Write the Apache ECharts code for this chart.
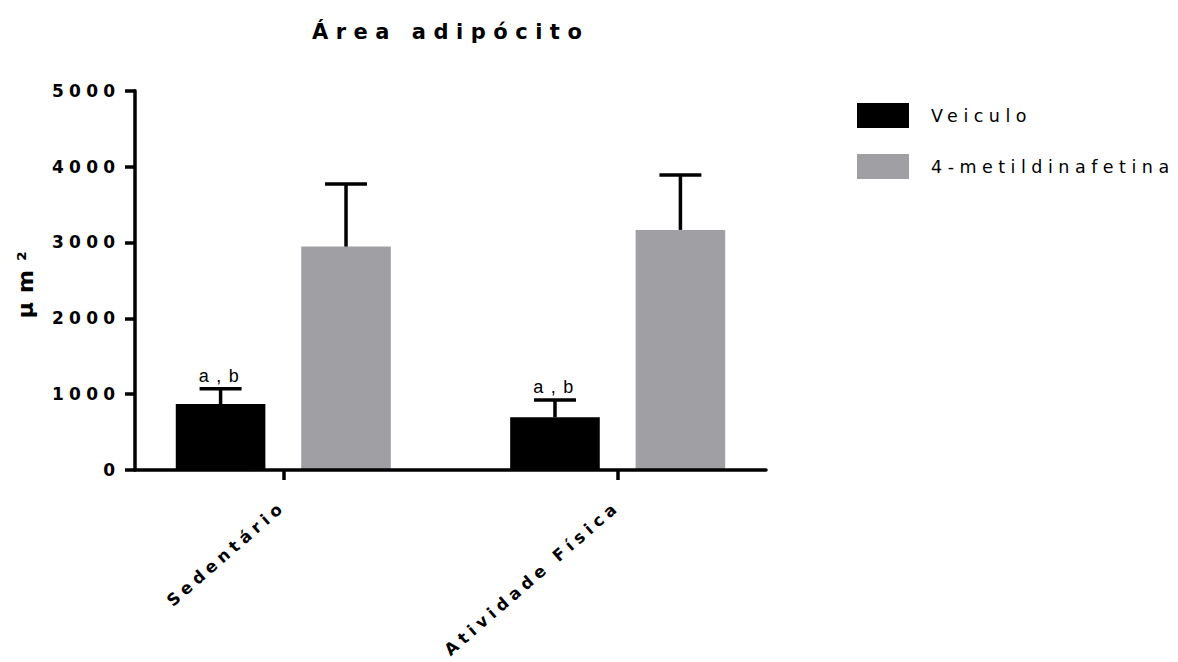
<!DOCTYPE html>
<html><head><meta charset="utf-8">
<script src="https://cdn.jsdelivr.net/npm/echarts@6/dist/echarts.min.js"></script>
<style>
html,body{margin:0;padding:0;background:#fff;}
#chart{width:1178px;height:662px;}
#chart text[style*="21px"]{letter-spacing:7.5px;}
#chart text[style*="22px"]{letter-spacing:9px;}
#chart text[style*="17px"]{letter-spacing:5.2px;}
#chart text[style*="16.5px"]{letter-spacing:4.9px;}
#chart text[style*="17.5px"]{letter-spacing:5.5px;}
#chart text[style*="18px"]{letter-spacing:7.5px;}
</style></head><body><div id="chart"></div>
<script>
// ---- data ----
const categories = ['Sedentário', 'Atividade Física'];
const seriesNames = ['Veiculo', '4-metildinafetina'];
const veiculoMean = [870, 695];
const veiculoUpper = [1072, 923];
const metilMean = [2945, 3165];
const metilUpper = [3770, 3889];
const veiculoMarks = ['a,b', 'a,b'];
const metilMarks = ['', ''];
const yMin = 0, yMax = 5000, yInterval = 1000;
const chartTitle = 'Área adipócito';
const yName = 'µm²';

// ---- style ----
const FONT = 'Liberation Sans, Arial, sans-serif';
const WFONT = 'DejaVu Sans, sans-serif';
const BAR_W = 89.6;
const GAP_RATIO = 0.4;
const OFFSET = (BAR_W + BAR_W * GAP_RATIO) / 2;
const colors = ['#000000', '#a09fa4'];

function errData(mean, upper, marks) {
  return mean.map((m, i) => [i, m, upper[i], marks[i]]);
}
function makeErr(name, mean, upper, marks, dir) {
  return {
    type: 'custom', name: name, xAxisIndex: 0, yAxisIndex: 0, z: 5,
    encode: { x: 0, y: [1, 2] },
    data: errData(mean, upper, marks),
    renderItem: function (params, api) {
      const idx = api.value(0);
      const base = api.coord([idx, api.value(1)]);
      const top = api.coord([idx, api.value(2)]);
      const cx = base[0] + dir * OFFSET;
      const ls = { stroke: '#000', lineWidth: 3.5 };
      const children = [
        { type: 'line', shape: { x1: cx, y1: base[1], x2: cx, y2: top[1] }, style: ls },
        { type: 'line', shape: { x1: cx - 21, y1: top[1], x2: cx + 21, y2: top[1] }, style: ls }
      ];
      const mark = marks[params.dataIndex];
      if (mark) {
        children.push({ type: 'text', style: {
          text: mark, x: cx + 2, y: top[1] - 4,
          align: 'center', verticalAlign: 'bottom',
          textAlign: 'center', textVerticalAlign: 'bottom',
          font: 'normal 18px ' + FONT, fill: '#000' } });
      }
      return { type: 'group', children: children };
    }
  };
}

const chart = echarts.init(document.getElementById('chart'), null, { renderer: 'svg' });
chart.setOption({
  animation: false,
  backgroundColor: '#fff',
  title: {
    text: chartTitle, left: 307, top: 16,
    textStyle: { fontFamily: WFONT, fontSize: 21, fontWeight: 'bold', color: '#000' }
  },
  legend: {
    orient: 'vertical', left: 852, top: 98,
    data: seriesNames, icon: 'rect',
    itemWidth: 52, itemHeight: 25, itemGap: 26,
    textStyle: { fontFamily: WFONT, fontSize: 17.5, color: '#000', padding: [0, 0, 0, 17] }
  },
  grid: [
    { left: 116.1, width: 668.8, top: 90.7, bottom: 662 - 470 },
    { left: 135, width: 631, top: 90.7, bottom: 662 - 470 }
  ],
  xAxis: [
    {
      type: 'category', gridIndex: 0, data: categories,
      axisLine: { show: false },
      axisTick: { show: true, alignWithLabel: true, length: 10, lineStyle: { color: '#000', width: 3.5 } },
      axisLabel: { interval: 0, rotate: 41, margin: 34, color: '#000', fontFamily: WFONT, fontSize: 16.5, fontWeight: 'bold' },
      splitLine: { show: false }
    },
    {
      type: 'value', gridIndex: 1, min: 0, max: 1, z: 10,
      axisLine: { show: true, lineStyle: { color: '#000', width: 3.5 } },
      axisTick: { show: false }, axisLabel: { show: false }, splitLine: { show: false }
    }
  ],
  yAxis: [
    { type: 'value', gridIndex: 0, min: yMin, max: yMax, interval: yInterval, show: false, splitLine: { show: false } },
    {
      type: 'value', gridIndex: 1, min: yMin, max: yMax, interval: yInterval, z: 10,
      name: yName, nameLocation: 'middle', nameRotate: 90, nameGap: 99,
      nameTextStyle: { fontFamily: WFONT, fontSize: 22, fontWeight: 'bold', color: '#000' },
      axisLine: { show: true, lineStyle: { color: '#000', width: 3.5 } },
      axisTick: { show: true, length: 10, lineStyle: { color: '#000', width: 3.5 } },
      axisLabel: { margin: 14.8, color: '#000', fontFamily: WFONT, fontSize: 17, fontWeight: 'bold',
        formatter: function (v) { return String(v); } },
      splitLine: { show: false }
    }
  ],
  series: [
    { type: 'bar', name: seriesNames[0], xAxisIndex: 0, yAxisIndex: 0, data: veiculoMean,
      barWidth: BAR_W, barGap: (GAP_RATIO * 100) + '%', itemStyle: { color: colors[0] } },
    { type: 'bar', name: seriesNames[1], xAxisIndex: 0, yAxisIndex: 0, data: metilMean,
      barWidth: BAR_W, barGap: (GAP_RATIO * 100) + '%', itemStyle: { color: colors[1] } },
    makeErr('errVeiculo', veiculoMean, veiculoUpper, veiculoMarks, -1),
    makeErr('errMetil', metilMean, metilUpper, metilMarks, 1)
  ]
});
</script></body></html>
